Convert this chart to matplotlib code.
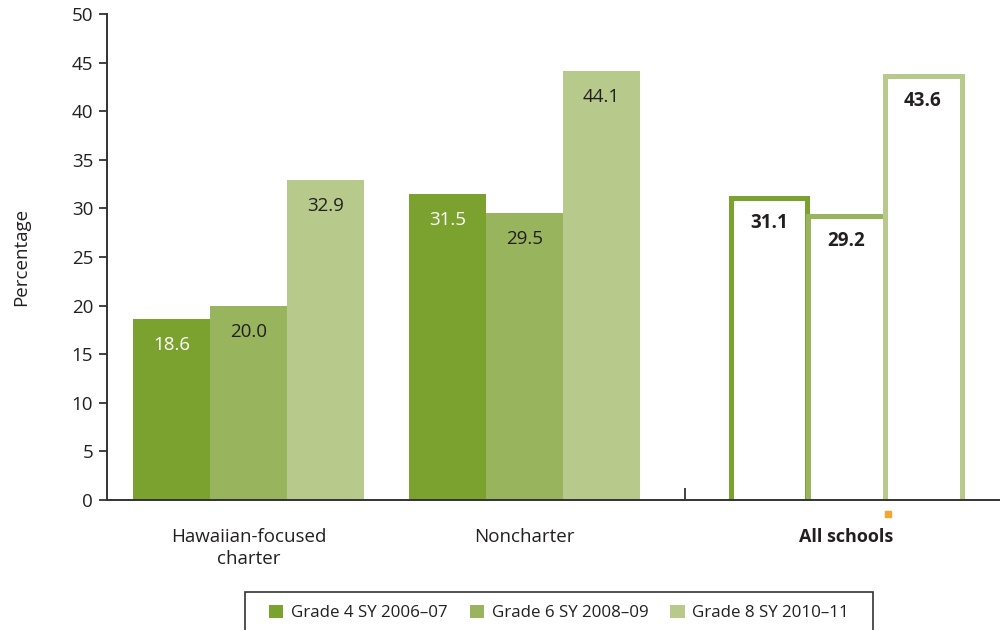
import matplotlib
matplotlib.use('Agg')
import matplotlib.pyplot as plt
from matplotlib.patches import Patch, Rectangle

plt.rcParams['font.family'] = ['Open Sans', 'DejaVu Sans']

groups = ["Hawaiian-focused\ncharter", "Noncharter", "All schools"]
series = ["Grade 4 SY 2006\u201307", "Grade 6 SY 2008\u201309", "Grade 8 SY 2010\u201311"]
hawaiian = [18.6, 20.0, 32.9]
noncharter = [31.5, 29.5, 44.1]
all_schools = [31.1, 29.2, 43.6]

colors = ["#7ba22f", "#98b45c", "#b7ca8c"]
text_dark = "#231f20"
axis_col = "#333333"

# layout (axis units ~ 100 px)
centers = [1.415, 4.175, 7.39]
width = 0.77
offsets = [-width, 0, width]

fig = plt.figure(figsize=(10, 6.3), dpi=100)
ax = fig.add_axes([0.107, 130 / 630, 0.893, 486 / 630])

# filled groups
for gi, vals in enumerate([hawaiian, noncharter]):
    for si, v in enumerate(vals):
        x = centers[gi] + offsets[si]
        ax.bar(x, v, width=width, color=colors[si], linewidth=0, zorder=2)
        tc = "white" if si == 0 else text_dark
        ax.annotate(f"{v:.1f}", (x, v), xytext=(0, -26), textcoords="offset pixels",
                    ha="center", va="center", fontsize=13.5, color=tc, zorder=3)

# outlined group, open at the bottom
for si, v in enumerate(all_schools):
    x = centers[2] + offsets[si]
    x0, x1 = x - width / 2, x + width / 2
    ax.plot([x0, x0, x1, x1], [0, v, v, 0], color=colors[si], linewidth=3.6,
            solid_joinstyle="miter", solid_capstyle="butt", zorder=2 + si * 0.1)
    ax.annotate(f"{v:.1f}", (x, v), xytext=(0, -25), textcoords="offset pixels",
                ha="center", va="center", fontsize=13.5, color=text_dark,
                fontweight="bold", zorder=4)

# small orange mark below the axis
ax.plot([7.805], [-1.39], marker="s", ms=4.5, color="#f5a530", linestyle="none",
        clip_on=False, zorder=5)

ax.set_xlim(0, 8.93)
ax.set_ylim(0, 50)
ax.set_yticks(range(0, 51, 5))
ax.set_xticks(centers)
ax.set_xticklabels(groups, fontsize=13.5, color=text_dark, linespacing=1.33)
ax.get_xticklabels()[2].set_fontweight("bold")
ax.get_xticklabels()[2].set_fontsize(13)
ax.tick_params(axis="x", which="major", length=0, pad=20)
ax.set_xticks([5.78], minor=True)
ax.tick_params(axis="x", which="minor", direction="in", length=9, width=1.3, color=axis_col)
ax.tick_params(axis="y", length=6, width=1.3, color=axis_col, labelsize=13.5,
               labelcolor=text_dark, pad=4)

for s in ["top", "right"]:
    ax.spines[s].set_visible(False)
for s in ["left", "bottom"]:
    ax.spines[s].set_color(axis_col)
    ax.spines[s].set_linewidth(1.4)

fig.text(0.021, 1 - 257 / 630, "Percentage", rotation=90, ha="center", va="center",
         fontsize=13.5, color=text_dark)

# legend box (open at the bottom edge of the figure)
fig.patches.append(Rectangle((245 / 1000, -0.05), 628 / 1000, 0.05 + 38 / 630,
                             transform=fig.transFigure, facecolor="none",
                             edgecolor=axis_col, linewidth=1.2))
handles = [Patch(facecolor=c, edgecolor="none") for c in colors]
leg = fig.legend(handles, series, loc="center", bbox_to_anchor=(0.559, 1 - 613 / 630),
                 ncol=3, frameon=False, fontsize=12.2,
                 handlelength=0.85, handleheight=0.85, handletextpad=0.45,
                 columnspacing=1.3, borderpad=0, borderaxespad=0)
for t in leg.get_texts():
    t.set_color(text_dark)

fig.savefig("out.png", dpi=100)
